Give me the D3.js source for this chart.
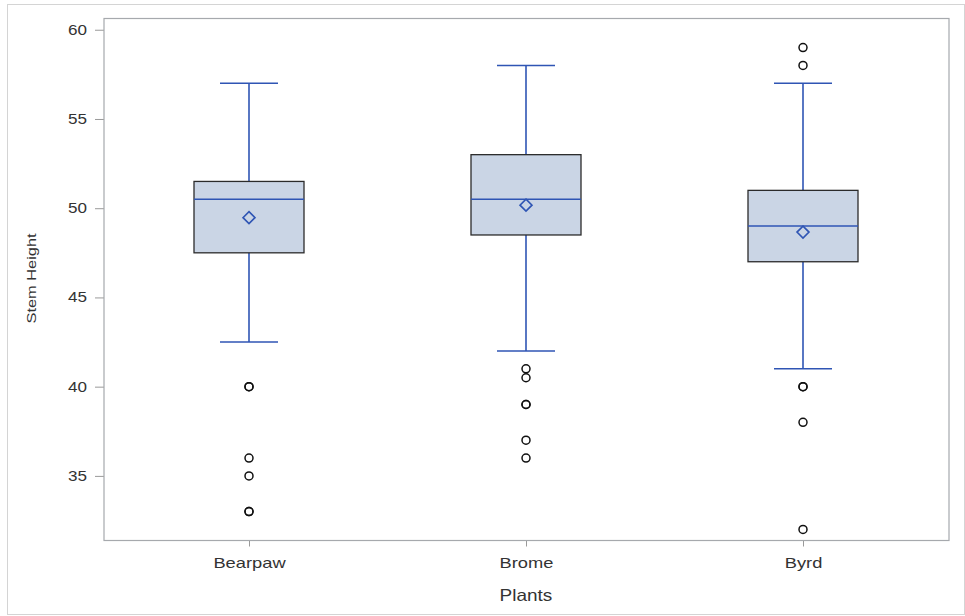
<!DOCTYPE html>
<html>
<head>
<meta charset="utf-8">
<script src="https://cdn.jsdelivr.net/npm/d3@7"></script>
<style>
  html, body { margin: 0; padding: 0; background: #fff; }
  svg { display: block; font-family: "Liberation Sans", Arial, sans-serif; }
</style>
</head>
<body>
<svg id="chart" width="965" height="616"></svg>
<script>
// Stem height distribution by plant variety
const categories = ["Bearpaw", "Brome", "Byrd"];
const q1Values     = [47.5, 48.5, 47];
const medianValues = [50.5, 50.5, 49];
const q3Values     = [51.5, 53, 51];
const meanValues   = [49.47, 50.17, 48.66];
const whiskerLow   = [42.5, 42, 41];
const whiskerHigh  = [57, 58, 57];
const outlierValues = [
  [40, 40, 36, 35, 33, 33],
  [41, 40.5, 39, 39, 37, 36],
  [59, 58, 40, 40, 38, 32]
];
const yTicks = [35, 40, 45, 50, 55, 60];

const svg = d3.select("#chart");
const W = 965, H = 616;
const plot = { left: 104, top: 18.5, right: 949, bottom: 540.5 };

// widen text glyphs horizontally by factor k
function widen(sel, k) {
  sel.each(function () {
    const L = this.getComputedTextLength();
    d3.select(this).attr("textLength", L * k).attr("lengthAdjust", "spacingAndGlyphs");
  });
}

// outer frame
svg.append("rect")
  .attr("x", 7.5).attr("y", 4.5)
  .attr("width", W - 8).attr("height", 610)
  .attr("fill", "none").attr("stroke", "#d4d4d4").attr("stroke-width", 1);

const x = d3.scalePoint().domain(categories).range([249, 803]);
const y = d3.scaleLinear().domain([31.38, 60.63]).range([plot.bottom, plot.top]);

// axes
const yAxis = d3.axisLeft(y).tickValues(yTicks).tickSize(9).tickPadding(8);
const gy = svg.append("g").attr("transform", `translate(${plot.left},0)`).call(yAxis);
gy.select(".domain").remove();
gy.selectAll(".tick line").attr("stroke", "#9a9a9a");
gy.selectAll(".tick text").attr("fill", "#333").style("font-size", "14px").style("font-family", "Liberation Sans, Arial, sans-serif");
widen(gy.selectAll(".tick text"), 1.22);

const xAxis = d3.axisBottom(x).tickSize(6).tickPadding(11);
const gx = svg.append("g").attr("transform", `translate(0,${plot.bottom})`).call(xAxis);
gx.select(".domain").remove();
gx.selectAll(".tick line").attr("stroke", "#9a9a9a");
gx.selectAll(".tick text").attr("fill", "#333").style("font-size", "15px").style("font-family", "Liberation Sans, Arial, sans-serif");
widen(gx.selectAll(".tick text"), 1.22);

// plot frame
svg.append("rect")
  .attr("x", plot.left).attr("y", plot.top)
  .attr("width", plot.right - plot.left).attr("height", plot.bottom - plot.top)
  .attr("fill", "none").attr("stroke", "#a6a9ad").attr("stroke-width", 1.2);

// axis titles
const yTitle = svg.append("text")
  .attr("transform", `translate(36,${(plot.top + plot.bottom) / 2 - 1}) rotate(-90)`)
  .attr("text-anchor", "middle")
  .attr("fill", "#333").style("font-size", "12.5px")
  .text("Stem Height");
widen(yTitle, 1.31);
const xTitle = svg.append("text")
  .attr("x", 526).attr("y", 601)
  .attr("text-anchor", "middle")
  .attr("fill", "#333").style("font-size", "16.5px")
  .text("Plants");
widen(xTitle, 1.15);

const boxW = 110, capW = 58;
const blue = "#2f55b4";

const g = svg.append("g");
categories.forEach((c, i) => {
  const cx = x(c);
  const grp = g.append("g");
  // whiskers
  grp.append("line")
    .attr("x1", cx).attr("x2", cx)
    .attr("y1", y(q3Values[i])).attr("y2", y(whiskerHigh[i]))
    .attr("stroke", blue).attr("stroke-width", 1.6);
  grp.append("line")
    .attr("x1", cx).attr("x2", cx)
    .attr("y1", y(q1Values[i])).attr("y2", y(whiskerLow[i]))
    .attr("stroke", blue).attr("stroke-width", 1.6);
  [whiskerHigh[i], whiskerLow[i]].forEach(v => {
    grp.append("line")
      .attr("x1", cx - capW / 2).attr("x2", cx + capW / 2)
      .attr("y1", y(v)).attr("y2", y(v))
      .attr("stroke", blue).attr("stroke-width", 1.6);
  });
  // box
  grp.append("rect")
    .attr("x", cx - boxW / 2).attr("y", y(q3Values[i]))
    .attr("width", boxW).attr("height", y(q1Values[i]) - y(q3Values[i]))
    .attr("fill", "#cad5e5").attr("stroke", "#2b2b2b").attr("stroke-width", 1.3);
  // median
  grp.append("line")
    .attr("x1", cx - boxW / 2).attr("x2", cx + boxW / 2)
    .attr("y1", y(medianValues[i])).attr("y2", y(medianValues[i]))
    .attr("stroke", blue).attr("stroke-width", 1.6);
  // mean diamond
  const my = y(meanValues[i]), d = 6;
  grp.append("path")
    .attr("d", `M${cx},${my - d}L${cx + d},${my}L${cx},${my + d}L${cx - d},${my}Z`)
    .attr("fill", "none").attr("stroke", blue).attr("stroke-width", 1.6);
  // outliers
  grp.selectAll("circle.out")
    .data(outlierValues[i])
    .join("circle")
    .attr("class", "out")
    .attr("cx", cx).attr("cy", v => y(v)).attr("r", 4)
    .attr("fill", "none").attr("stroke", "#111").attr("stroke-width", 1.5);
});
</script>
</body>
</html>
